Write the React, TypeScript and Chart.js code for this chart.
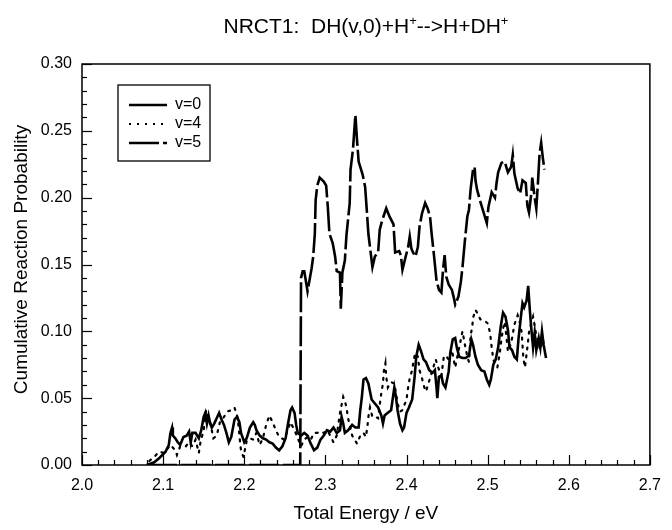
import React, { useEffect, useRef } from 'react';
import { Chart, registerables } from 'chart.js';

Chart.register(...registerables);

// ---- Data ----
const v0Energy = [
  2.080, 2.089, 2.095, 2.099, 2.103, 2.107, 2.109, 2.111, 2.112, 2.115, 2.118, 2.121, 2.125, 2.129, 2.132, 2.134,
  2.136, 2.140, 2.144, 2.147, 2.150, 2.152, 2.154, 2.156, 2.158, 2.160, 2.163, 2.166, 2.169, 2.172, 2.175, 2.178,
  2.181, 2.184, 2.188, 2.191, 2.194, 2.196, 2.200, 2.203, 2.207, 2.211, 2.213, 2.215, 2.219, 2.223, 2.227, 2.231,
  2.235, 2.239, 2.243, 2.247, 2.251, 2.254, 2.257, 2.259, 2.262, 2.264, 2.266, 2.270, 2.274, 2.278, 2.282, 2.286,
  2.290, 2.294, 2.298, 2.302, 2.306, 2.310, 2.314, 2.318, 2.320, 2.322, 2.324, 2.328, 2.333, 2.337, 2.341, 2.343,
  2.345, 2.347, 2.350, 2.353, 2.355, 2.357, 2.361, 2.365, 2.369, 2.371, 2.373, 2.377, 2.381, 2.385, 2.387, 2.389,
  2.392, 2.395, 2.397, 2.400, 2.403, 2.407, 2.410, 2.412, 2.415, 2.418, 2.421, 2.424, 2.428, 2.432, 2.435, 2.437,
  2.438, 2.440, 2.443, 2.445, 2.448, 2.452, 2.454, 2.457, 2.460, 2.462, 2.465, 2.469, 2.473, 2.477, 2.480, 2.482,
  2.485, 2.488, 2.492, 2.496, 2.499, 2.502, 2.504, 2.507, 2.510, 2.513, 2.516, 2.519, 2.522, 2.525, 2.527, 2.530,
  2.533, 2.536, 2.538, 2.541, 2.543, 2.545, 2.548, 2.550, 2.552, 2.554, 2.556, 2.558, 2.560, 2.563, 2.565, 2.567,
  2.569, 2.572,
];
const v0Prob = [
  0.000, 0.002, 0.005, 0.0075, 0.010, 0.015, 0.024, 0.028, 0.022, 0.020, 0.017, 0.015, 0.021, 0.022, 0.025, 0.017,
  0.024, 0.024, 0.020, 0.026, 0.036, 0.039, 0.031, 0.037, 0.031, 0.028, 0.031, 0.035, 0.039, 0.034, 0.030, 0.024,
  0.017, 0.021, 0.034, 0.036, 0.032, 0.024, 0.017, 0.020, 0.028, 0.032, 0.030, 0.026, 0.022, 0.020, 0.019, 0.017,
  0.016, 0.013, 0.011, 0.014, 0.020, 0.031, 0.041, 0.043, 0.039, 0.030, 0.024, 0.022, 0.024, 0.022, 0.016, 0.011,
  0.013, 0.019, 0.022, 0.026, 0.025, 0.028, 0.024, 0.026, 0.036, 0.031, 0.024, 0.026, 0.030, 0.028, 0.028, 0.041,
  0.051, 0.064, 0.065, 0.061, 0.055, 0.049, 0.046, 0.043, 0.037, 0.031, 0.037, 0.039, 0.041, 0.058, 0.051, 0.041,
  0.031, 0.026, 0.028, 0.039, 0.043, 0.049, 0.066, 0.081, 0.090, 0.085, 0.079, 0.077, 0.071, 0.069, 0.071, 0.058,
  0.050, 0.066, 0.067, 0.061, 0.058, 0.070, 0.084, 0.094, 0.095, 0.088, 0.081, 0.080, 0.080, 0.082, 0.094, 0.090,
  0.081, 0.075, 0.071, 0.070, 0.064, 0.060, 0.064, 0.075, 0.079, 0.088, 0.103, 0.114, 0.111, 0.101, 0.088, 0.086,
  0.081, 0.079, 0.094, 0.111, 0.121, 0.118, 0.123, 0.134, 0.116, 0.101, 0.088, 0.099, 0.086, 0.095, 0.088, 0.100,
  0.090, 0.080,
];

const v4Energy = [
  2.083, 2.089, 2.095, 2.101, 2.109, 2.115, 2.117, 2.121, 2.128, 2.132, 2.136, 2.140, 2.144, 2.146, 2.150, 2.153,
  2.158, 2.160, 2.162, 2.166, 2.170, 2.174, 2.179, 2.184, 2.188, 2.192, 2.195, 2.196, 2.199, 2.203, 2.207, 2.211,
  2.215, 2.219, 2.223, 2.227, 2.231, 2.235, 2.239, 2.243, 2.249, 2.253, 2.257, 2.262, 2.266, 2.270, 2.274, 2.278,
  2.282, 2.286, 2.290, 2.294, 2.298, 2.302, 2.306, 2.310, 2.314, 2.318, 2.320, 2.322, 2.324, 2.326, 2.328, 2.333,
  2.339, 2.343, 2.347, 2.350, 2.352, 2.353, 2.355, 2.358, 2.362, 2.365, 2.367, 2.369, 2.371, 2.372, 2.374, 2.375,
  2.377, 2.381, 2.385, 2.387, 2.389, 2.392, 2.395, 2.400, 2.402, 2.404, 2.407, 2.409, 2.411, 2.414, 2.416, 2.419,
  2.422, 2.424, 2.427, 2.430, 2.433, 2.436, 2.439, 2.443, 2.446, 2.448, 2.452, 2.456, 2.460, 2.464, 2.467, 2.469,
  2.472, 2.475, 2.477, 2.479, 2.481, 2.482, 2.485, 2.487, 2.491, 2.496, 2.500, 2.503, 2.505, 2.507, 2.509, 2.512,
  2.515, 2.517, 2.519, 2.521, 2.523, 2.525, 2.529, 2.533, 2.537, 2.540, 2.542, 2.544, 2.546, 2.549, 2.551, 2.554,
  2.556, 2.558, 2.560, 2.563, 2.565, 2.568, 2.570,
];
const v4Prob = [
  0.003, 0.006, 0.010, 0.009, 0.015, 0.011, 0.0075, 0.014, 0.014, 0.017, 0.014, 0.019, 0.009, 0.017, 0.026, 0.041,
  0.032, 0.026, 0.020, 0.022, 0.032, 0.035, 0.040, 0.041, 0.043, 0.035, 0.016, 0.011, 0.006, 0.018, 0.020, 0.019,
  0.024, 0.015, 0.020, 0.030, 0.037, 0.032, 0.026, 0.021, 0.019, 0.025, 0.032, 0.026, 0.020, 0.014, 0.019, 0.021,
  0.019, 0.024, 0.024, 0.025, 0.024, 0.026, 0.022, 0.017, 0.022, 0.039, 0.045, 0.051, 0.048, 0.043, 0.035, 0.022,
  0.016, 0.022, 0.024, 0.021, 0.030, 0.036, 0.043, 0.036, 0.036, 0.035, 0.045, 0.054, 0.061, 0.070, 0.076, 0.066,
  0.058, 0.062, 0.061, 0.054, 0.046, 0.040, 0.041, 0.049, 0.058, 0.065, 0.071, 0.079, 0.084, 0.081, 0.071, 0.065,
  0.058, 0.055, 0.061, 0.067, 0.073, 0.079, 0.073, 0.067, 0.081, 0.082, 0.079, 0.086, 0.073, 0.085, 0.094, 0.100,
  0.090, 0.081, 0.077, 0.097, 0.103, 0.110, 0.116, 0.114, 0.109, 0.108, 0.106, 0.099, 0.088, 0.079, 0.075, 0.073,
  0.084, 0.094, 0.102, 0.107, 0.097, 0.085, 0.091, 0.105, 0.112, 0.106, 0.099, 0.080, 0.073, 0.088, 0.099, 0.107,
  0.111, 0.104, 0.097, 0.090, 0.086, 0.094, 0.088,
];

const v5Energy = [
  2.080, 2.269, 2.270, 2.272, 2.274, 2.278, 2.283, 2.285, 2.287, 2.288, 2.290, 2.293, 2.298, 2.301, 2.303, 2.305,
  2.309, 2.312, 2.314, 2.318, 2.319, 2.321, 2.324, 2.326, 2.330, 2.331, 2.334, 2.337, 2.339, 2.341, 2.343, 2.346,
  2.349, 2.351, 2.353, 2.355, 2.358, 2.361, 2.365, 2.367, 2.370, 2.375, 2.379, 2.384, 2.386, 2.391, 2.393, 2.395,
  2.399, 2.402, 2.404, 2.406, 2.408, 2.411, 2.414, 2.416, 2.419, 2.423, 2.426, 2.429, 2.431, 2.434, 2.437, 2.440,
  2.443, 2.445, 2.447, 2.449, 2.452, 2.456, 2.458, 2.460, 2.464, 2.467, 2.469, 2.472, 2.475, 2.477, 2.479, 2.482,
  2.484, 2.485, 2.487, 2.491, 2.495, 2.499, 2.501, 2.505, 2.509, 2.511, 2.513, 2.517, 2.521, 2.525, 2.529, 2.531,
  2.533, 2.537, 2.540, 2.543, 2.547, 2.549, 2.551, 2.554, 2.555, 2.558, 2.560, 2.562, 2.564, 2.566, 2.568, 2.570,
];
const v5Prob = [
  0.000, 0.000, 0.140, 0.145, 0.145, 0.130, 0.147, 0.156, 0.173, 0.198, 0.209, 0.215, 0.212, 0.209, 0.193, 0.173,
  0.166, 0.156, 0.145, 0.144, 0.117, 0.144, 0.153, 0.172, 0.196, 0.221, 0.236, 0.262, 0.243, 0.227, 0.223, 0.217,
  0.208, 0.191, 0.173, 0.163, 0.148, 0.156, 0.159, 0.176, 0.183, 0.192, 0.186, 0.180, 0.159, 0.160, 0.157, 0.146,
  0.156, 0.163, 0.171, 0.162, 0.159, 0.156, 0.163, 0.178, 0.188, 0.196, 0.192, 0.186, 0.173, 0.156, 0.138, 0.131,
  0.129, 0.146, 0.157, 0.141, 0.135, 0.131, 0.126, 0.120, 0.126, 0.137, 0.148, 0.168, 0.186, 0.191, 0.206, 0.221,
  0.223, 0.213, 0.206, 0.197, 0.189, 0.181, 0.193, 0.204, 0.200, 0.211, 0.219, 0.226, 0.227, 0.219, 0.223, 0.232,
  0.218, 0.207, 0.203, 0.213, 0.211, 0.194, 0.189, 0.204, 0.215, 0.200, 0.192, 0.211, 0.233, 0.241, 0.230, 0.221,
];

const seriesLabels = ['v=0', 'v=4', 'v=5'];
const X_MIN = 2.0;
const X_MAX = 2.7;
const X_MAJOR = 0.1;
const X_MINOR = 0.02;
const Y_MIN = 0;
const Y_MAX = 0.3;
const Y_MAJOR = 0.05;
const Y_MINOR = 0.01;

const FONT = "'Liberation Sans', Arial, Helvetica, sans-serif";
const DASHES: number[][] = [[], [2, 6], [30, 4]];
const WIDTHS = [2.6, 2.2, 2.6];

const pts = (xs: number[], ys: number[]) => xs.map((x, i) => ({ x, y: ys[i] }));

const decorPlugin = {
  id: 'decor',
  afterDraw(chart: any) {
    const { ctx, chartArea: a, scales } = chart;
    const xs = scales.x;
    const ys = scales.y;
    ctx.save();
    ctx.strokeStyle = '#000';
    ctx.fillStyle = '#000';
    // frame
    ctx.lineWidth = 1.5;
    ctx.setLineDash([]);
    ctx.strokeRect(a.left, a.top, a.right - a.left, a.bottom - a.top);
    // inward ticks
    ctx.lineWidth = 1.2;
    const nx = Math.round((X_MAX - X_MIN) / X_MINOR);
    const xEvery = Math.round(X_MAJOR / X_MINOR);
    for (let i = 0; i <= nx; i++) {
      const px = Math.round(xs.getPixelForValue(X_MIN + i * X_MINOR)) + 0.5;
      const len = i % xEvery === 0 ? 10 : 5;
      ctx.beginPath();
      ctx.moveTo(px, a.bottom);
      ctx.lineTo(px, a.bottom - len);
      ctx.stroke();
    }
    const ny = Math.round((Y_MAX - Y_MIN) / Y_MINOR);
    const yEvery = Math.round(Y_MAJOR / Y_MINOR);
    for (let i = 0; i <= ny; i++) {
      const py = Math.round(ys.getPixelForValue(Y_MIN + i * Y_MINOR)) + 0.5;
      const len = i % yEvery === 0 ? 10 : 5;
      ctx.beginPath();
      ctx.moveTo(a.left, py);
      ctx.lineTo(a.left + len, py);
      ctx.stroke();
    }

    // title with superscripts
    const parts: [string, boolean][] = [
      ['NRCT1:  DH(v,0)+H', false],
      ['+', true],
      ['-->H+DH', false],
      ['+', true],
    ];
    const mainFont = `21px ${FONT}`;
    const supFont = `13px ${FONT}`;
    let total = 0;
    for (const [t, sup] of parts) {
      ctx.font = sup ? supFont : mainFont;
      total += ctx.measureText(t).width;
    }
    let tx = (a.left + a.right) / 2 - total / 2;
    const baseY = 33;
    ctx.textAlign = 'left';
    ctx.textBaseline = 'alphabetic';
    for (const [t, sup] of parts) {
      ctx.font = sup ? supFont : mainFont;
      ctx.fillText(t, tx, sup ? baseY - 8 : baseY);
      tx += ctx.measureText(t).width;
    }

    // axis titles
    ctx.font = `19px ${FONT}`;
    ctx.textAlign = 'center';
    ctx.textBaseline = 'middle';
    ctx.fillText('Total Energy / eV', (a.left + a.right) / 2, 514);
    ctx.save();
    ctx.translate(22, (a.top + a.bottom) / 2 - 5);
    ctx.rotate(-Math.PI / 2);
    ctx.fillText('Cumulative Reaction Probability', 0, 0);
    ctx.restore();

    // legend
    const lx = a.left + 36;
    const ly = a.top + 21;
    const lw = 92;
    const lh = 76;
    ctx.setLineDash([]);
    ctx.lineWidth = 1.3;
    ctx.strokeRect(lx, ly, lw, lh);
    ctx.font = `16px ${FONT}`;
    ctx.textAlign = 'left';
    ctx.textBaseline = 'middle';
    seriesLabels.forEach((lab, i) => {
      const yy = ly + 20 + i * 19;
      ctx.lineWidth = WIDTHS[i];
      ctx.setLineDash(DASHES[i]);
      ctx.beginPath();
      ctx.moveTo(lx + 11, yy);
      ctx.lineTo(lx + 49, yy);
      ctx.stroke();
      ctx.setLineDash([]);
      ctx.fillText(lab, lx + 57, yy);
    });
    ctx.restore();
  },
};

export default function App() {
  const ref = useRef<HTMLCanvasElement | null>(null);
  useEffect(() => {
    document.body.style.margin = '0';
    const canvas = ref.current;
    if (!canvas) return;
    const chart = new Chart(canvas, {
      type: 'line',
      data: {
        datasets: [
          { label: seriesLabels[0], data: pts(v0Energy, v0Prob) },
          { label: seriesLabels[1], data: pts(v4Energy, v4Prob) },
          { label: seriesLabels[2], data: pts(v5Energy, v5Prob) },
        ].map((d, i) => ({
          ...d,
          borderColor: '#000',
          backgroundColor: '#000',
          borderWidth: WIDTHS[i],
          borderDash: DASHES[i],
          borderCapStyle: i === 1 ? 'round' : 'butt',
          pointRadius: 0,
          tension: 0,
          fill: false,
        })) as any,
      },
      options: {
        responsive: false,
        animation: false,
        layout: { padding: { top: 64, right: 15, left: 0, bottom: 0 } },
        plugins: { legend: { display: false }, title: { display: false }, tooltip: { enabled: false } },
        scales: {
          x: {
            type: 'linear',
            min: X_MIN,
            max: X_MAX,
            grid: { display: false, drawTicks: false },
            border: { display: false },
            ticks: {
              stepSize: X_MAJOR,
              padding: 11,
              color: '#000',
              font: { family: FONT, size: 16 },
              maxRotation: 0,
              callback: (v: any) => Number(v).toFixed(1),
            },
            afterFit: (s: any) => { s.height = 65; },
          },
          y: {
            type: 'linear',
            min: Y_MIN,
            max: Y_MAX,
            grid: { display: false, drawTicks: false },
            border: { display: false },
            ticks: {
              stepSize: Y_MAJOR,
              padding: 10,
              color: '#000',
              font: { family: FONT, size: 16 },
              callback: (v: any) => Number(v).toFixed(2),
            },
            afterFit: (s: any) => { s.width = 82; },
          },
        },
      },
      plugins: [decorPlugin],
    });
    return () => chart.destroy();
  }, []);
  return <canvas ref={ref} width={672} height={530} style={{ display: 'block' }} />;
}
